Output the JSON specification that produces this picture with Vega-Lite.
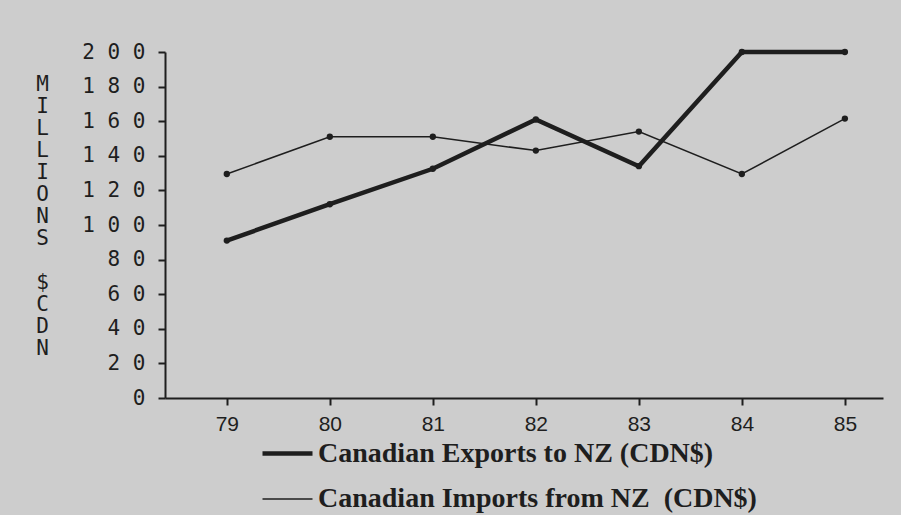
{
  "$schema": "https://vega.github.io/schema/vega-lite/v6.json",
  "width": 718,
  "height": 346,
  "autosize": {"type": "none"},
  "padding": {"left": 165, "top": 52, "right": 18, "bottom": 117},
  "background": "#cdcdcd",
  "config": {
    "view": {"stroke": null},
    "axis": {"domainColor": "#1e1e1e", "domainWidth": 2, "tickColor": "#1e1e1e", "tickWidth": 2, "tickSize": 7, "grid": false, "labelColor": "#1e1e1e", "titleColor": "#1e1e1e"}
  },
  "data": {
    "values": [
      {"year": 79, "value": 91, "series": "Canadian Exports to NZ (CDN$)"},
      {"year": 80, "value": 112, "series": "Canadian Exports to NZ (CDN$)"},
      {"year": 81, "value": 132.5, "series": "Canadian Exports to NZ (CDN$)"},
      {"year": 82, "value": 161, "series": "Canadian Exports to NZ (CDN$)"},
      {"year": 83, "value": 134, "series": "Canadian Exports to NZ (CDN$)"},
      {"year": 84, "value": 200, "series": "Canadian Exports to NZ (CDN$)"},
      {"year": 85, "value": 200, "series": "Canadian Exports to NZ (CDN$)"},
      {"year": 79, "value": 129.5, "series": "Canadian Imports from NZ\u00a0 (CDN$)"},
      {"year": 80, "value": 151, "series": "Canadian Imports from NZ\u00a0 (CDN$)"},
      {"year": 81, "value": 151, "series": "Canadian Imports from NZ\u00a0 (CDN$)"},
      {"year": 82, "value": 143, "series": "Canadian Imports from NZ\u00a0 (CDN$)"},
      {"year": 83, "value": 154, "series": "Canadian Imports from NZ\u00a0 (CDN$)"},
      {"year": 84, "value": 129.5, "series": "Canadian Imports from NZ\u00a0 (CDN$)"},
      {"year": 85, "value": 161.5, "series": "Canadian Imports from NZ\u00a0 (CDN$)"}
    ]
  },
  "encoding": {
    "x": {
      "field": "year", "type": "quantitative",
      "scale": {"domain": [78.4, 85.37], "nice": false, "zero": false},
      "axis": {"values": [79, 80, 81, 82, 83, 84, 85], "format": "d", "title": null, "labelFont": "Liberation Sans", "labelFontSize": 21, "labelPadding": 8, "labelBaseline": "top"}
    },
    "y": {
      "field": "value", "type": "quantitative",
      "scale": {"domain": [0, 200], "nice": false},
      "axis": {
        "values": [0, 20, 40, 60, 80, 100, 120, 140, 160, 180, 200],
        "labelExpr": "replace(datum.label, regexp('(\\\\d)(?=\\\\d)', 'g'), '$1 ')",
        "labelFont": "DejaVu Sans Mono", "labelFontSize": 21, "labelPadding": 13,
        "title": ["M", "I", "L", "L", "I", "O", "N", "S", "\u200b", "$", "C", "D", "N"],
        "titleFont": "DejaVu Sans Mono", "titleFontSize": 21, "titleFontWeight": "normal",
        "titleAngle": 0, "titleLineHeight": 22, "titleX": -123, "titleY": 32,
        "titleAlign": "center", "titleBaseline": "middle"
      }
    }
  },
  "layer": [
    {
      "mark": {"type": "line", "color": "#1e1e1e"},
      "encoding": {
        "strokeWidth": {
          "field": "series", "type": "ordinal",
          "scale": {"domain": ["Canadian Exports to NZ (CDN$)", "Canadian Imports from NZ\u00a0 (CDN$)"], "range": [4.5, 1.5]},
          "legend": {
            "orient": "none", "legendX": 95, "legendY": 374, "title": null, "direction": "vertical",
            "symbolType": "stroke", "symbolSize": 2500, "symbolStrokeColor": "#1e1e1e",
            "labelFont": "Liberation Serif", "labelFontWeight": "bold", "labelFontSize": 28, "labelColor": "#1e1e1e",
            "labelOffset": 3, "rowPadding": 5, "labelLimit": 0
          }
        }
      }
    },
    {
      "mark": {"type": "point", "filled": true, "color": "#1e1e1e", "size": 40, "opacity": 1},
      "encoding": {"detail": {"field": "series"}}
    }
  ]
}
